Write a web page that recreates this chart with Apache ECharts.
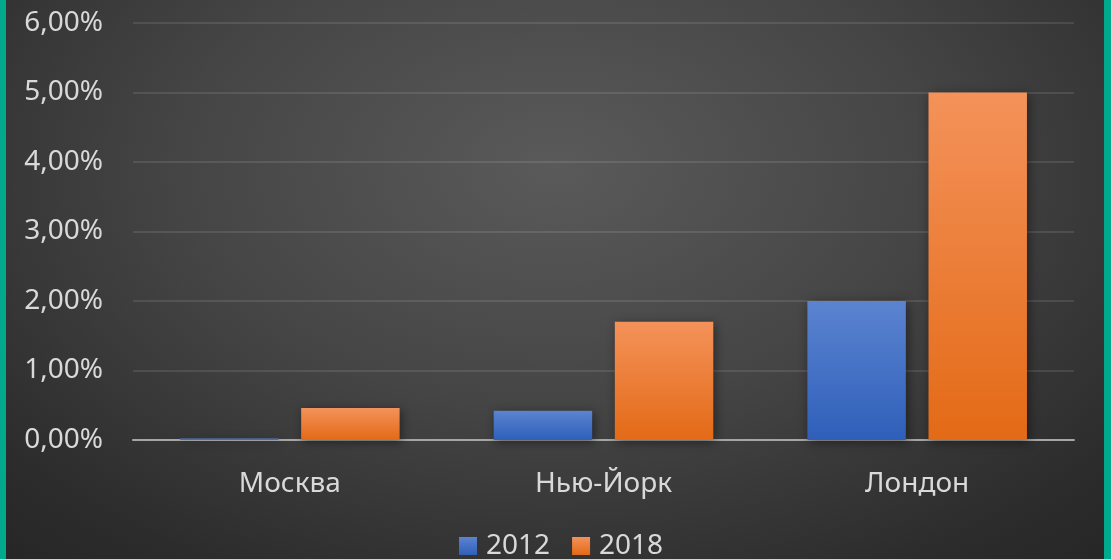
<!DOCTYPE html>
<html><head><meta charset="utf-8">
<script src="https://cdn.jsdelivr.net/npm/echarts@6/dist/echarts.min.js"></script>
<style>
html,body{margin:0;padding:0;width:1111px;height:559px;overflow:hidden;}
#wrap{position:relative;width:1111px;height:559px;background:radial-gradient(ellipse 75% 95% at 50% 30%, #5a5a5a 0%, #454545 45%, #2c2c2c 85%, #262626 100%);}
#chart{position:absolute;left:0;top:0;width:1111px;height:559px;}
.bl{position:absolute;top:0;height:559px;background:#00a88e;}
</style></head>
<body><div id="wrap"><div id="chart"></div><div class="bl" style="left:0;width:6px"></div><div class="bl" style="left:1104px;width:7px"></div></div>
<script>
const categories = ['Москва', 'Нью-Йорк', 'Лондон'];
const seriesNames = ['2012', '2018'];
const values2012 = [0.02, 0.42, 2.00];
const values2018 = [0.46, 1.70, 5.00];

const fmt = v => v.toFixed(2).replace('.', ',') + '%';
const grad = (top, bottom) => new echarts.graphic.LinearGradient(0, 0, 0, 1, [{offset: 0, color: top}, {offset: 1, color: bottom}]);
const font = '"Noto Sans", "Open Sans", sans-serif';
const chart = echarts.init(document.getElementById('chart'));
chart.setOption({
  backgroundColor: 'transparent',
  animation: false,
  grid: {left: 133, right: 37, top: 23, bottom: 119, containLabel: false},
  legend: {
    top: 527, left: 454, itemWidth: 18, itemHeight: 18, itemGap: 22, icon: 'rect',
    textStyle: {color: '#d9d9d9', fontSize: 28, fontFamily: font, padding: [0, 0, 0, 4]},
    data: [{name: '2012', itemStyle: {color: grad('#5b84d0', '#2f5fba')}}, {name: '2018', itemStyle: {color: grad('#f4925a', '#e36a16')}}]
  },
  xAxis: {
    type: 'category', data: categories,
    axisLine: {lineStyle: {color: '#a6a6a6', width: 2}},
    axisTick: {show: false},
    axisLabel: {color: '#d9d9d9', fontSize: 28, fontFamily: font, margin: 30}
  },
  yAxis: {
    type: 'value', min: 0, max: 6, interval: 1,
    axisLine: {show: false}, axisTick: {show: false},
    splitLine: {lineStyle: {color: 'rgba(255,255,255,0.1)', width: 2}},
    axisLabel: {color: '#d9d9d9', fontSize: 28, fontFamily: font, margin: 30, formatter: fmt}
  },
  series: [
    {name: seriesNames[0], type: 'bar', data: values2012, barGap: '23%', barCategoryGap: '30%',
     itemStyle: {color: grad('#5b84d0', '#2f5fba'), shadowColor: 'rgba(0,0,0,0.45)', shadowBlur: 10, shadowOffsetX: 2, shadowOffsetY: 2}},
    {name: seriesNames[1], type: 'bar', data: values2018,
     itemStyle: {color: grad('#f4925a', '#e36a16'), shadowColor: 'rgba(0,0,0,0.45)', shadowBlur: 10, shadowOffsetX: 2, shadowOffsetY: 2}}
  ]
});
</script></body></html>
